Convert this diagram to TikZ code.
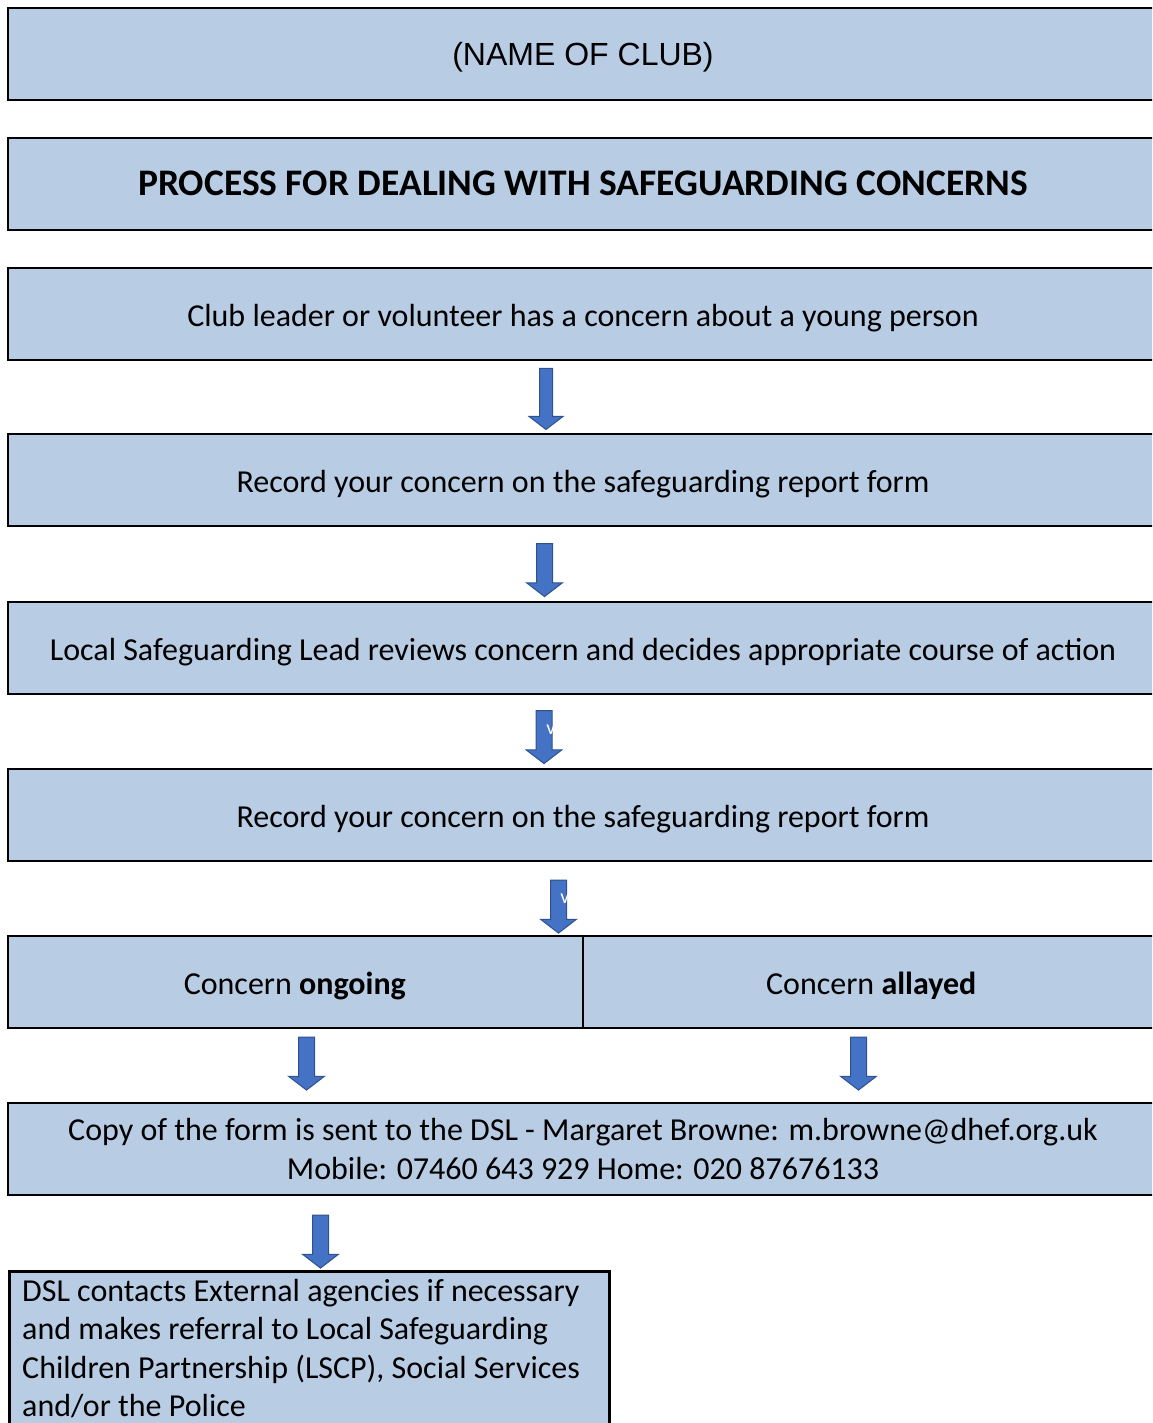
\documentclass[tikz,border=0pt]{standalone}
\usepackage{fontspec}
\setmainfont{Carlito}
\newfontfamily\arialfont{Liberation Sans}
\usepackage{tikz}
\usetikzlibrary{shapes.arrows,positioning,calc}

\definecolor{boxblue}{HTML}{B8CCE4}
\definecolor{arrowblue}{HTML}{4472C4}
\definecolor{arrowline}{HTML}{2F528F}

\begin{document}
\begin{tikzpicture}[x=1pt, y=-1pt,
	box/.style={draw=black, line width=2.8pt, fill=boxblue, minimum width=1150pt, minimum height=92pt, inner sep=0pt},
	txt/.style={font=\fontsize{32}{38.5}\selectfont, inner sep=0pt, anchor=base},
	downarrow/.style={single arrow, draw=arrowline, line width=1pt, fill=arrowblue, shape border rotate=270,
		minimum height=53pt, minimum width=35pt, single arrow head extend=10pt, single arrow tip angle=105, inner sep=7.5pt},
	arrowmark/.style={white, font=\fontsize{20}{20}\selectfont, inner sep=0pt}]
			\useasboundingbox (0,0) rectangle (1152,1423);
			\clip (0,0) rectangle (1152,1423);
			
			% boxes
			\node[box] (club) at (583,54) {};
			\node[txt, font=\arialfont\fontsize{32}{38.5}\selectfont] (clubtxt) at ($(club.center)+(0,11.5)$) {(NAME OF CLUB)};
			
			\node[box] (process) at (583,184) {};
			\node[txt, font=\fontsize{37.5}{44}\selectfont\bfseries] (processtxt) at ($(process.center)+(0,12)$) {PROCESS FOR DEALING WITH SAFEGUARDING CONCERNS};
			
			\node[box] (leader) at (583,314) {};
			\node[txt] (leadertxt) at ($(leader.center)+(0,12)$) {Club leader or volunteer has a concern about a young person};
			
			\node[box] (record) at (583,480) {};
			\node[txt] (recordtxt) at ($(record.center)+(0,12)$) {Record your concern on the safeguarding report form};
			
			\node[box] (lead) at (583,648) {};
			\node[txt] (leadtxt) at ($(lead.center)+(0,12)$) {Local Safeguarding Lead reviews concern and decides appropriate course of action};
			
			\node[box] (recordb) at (583,815) {};
			\node[txt] (recordbtxt) at ($(recordb.center)+(0,12)$) {Record your concern on the safeguarding report form};
			
			\node[box] (concern) at (583,982) {};
			\draw[line width=1.5pt] (concern.north) -- (concern.south);
			\node[txt] (ongoing) at ($(concern.west)!0.25!(concern.east)+(0,12)$) {Concern \textbf{ongoing}};
			\node[txt] (allayed) at ($(concern.west)!0.75!(concern.east)+(0,12)$) {Concern \textbf{allayed}};
			
			\node[box] (dsl) at (583,1149) {};
			\node[txt, anchor=center, align=center] (dsltxt) at (dsl.center) {Copy of the form is sent to the DSL - Margaret Browne: m.browne@dhef.org.uk\\Mobile: 07460 643 929 Home: 020 87676133};
			
			\node[box, minimum width=600pt, minimum height=180pt, anchor=north west] (agencies) at (8,1270) {};
			\node[txt, align=left, anchor=base west] (agenciestxt) at (22,1416.5) {DSL contacts External agencies if necessary\\and makes referral to Local Safeguarding\\Children Partnership (LSCP), Social Services\\and/or the Police};
			
			% arrows
			\node[downarrow, minimum height=61pt, minimum width=33pt, inner sep=6pt, single arrow head extend=10.5pt] (a1) at (546,396.5) {};
			\node[downarrow] (a2) at (544.5,567) {};
			\node[downarrow] (a3) at (544,734) {};
			\node[downarrow] (a4) at (558.5,903.5) {};
			\node[downarrow] (a5) at (306.5,1060.5) {};
			\node[downarrow] (a6) at (858.5,1060.5) {};
			\node[downarrow] (a7) at (320.5,1238.5) {};
			\node[arrowmark] (v3) at (551,730) {v};
			\node[arrowmark] (v4) at (565,899) {v};
			
\end{tikzpicture}
\end{document}
